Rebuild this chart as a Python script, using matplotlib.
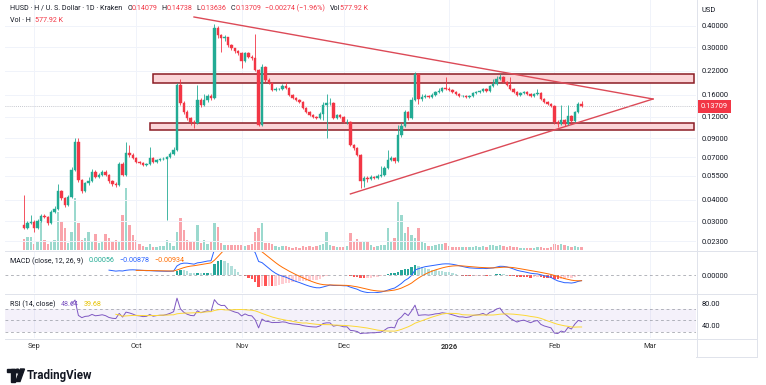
import numpy as np
import pandas as pd
import matplotlib
matplotlib.use("Agg")
import matplotlib.pyplot as plt
import matplotlib.dates as mdates
from matplotlib.lines import Line2D
from matplotlib.patches import Rectangle, Ellipse, Polygon
from matplotlib.transforms import blended_transform_factory

W, H = 766, 385

# ---- data (daily candles HUSD/USD, Kraken) ----
first_day = "2025-08-29"
first_open = 0.0286
closes = [
    .0275, .0293, .0297, .0275, .0301, .0322, .0318, .0293, .0340, .0353,
    .0448, .0408, .0372, .0414, .0592, .0857, .0518, .0448, .0498, .0511,
    .0576, .0539, .0554, .0576, .0554, .0511, .0492, .0485, .0640, .0554,
    .0741, .0721, .0693, .0658, .0649, .0632, .0640, .0693, .0658, .0675,
    .0684, .0684, .0703, .0731, .0771, .1821, .1435, .1274, .1177, .1116,
    .1101, .1493, .1397, .1493, .1574, .1533, .3870, .3528, .3390, .3436,
    .3091, .2970, .2855, .2780, .2501, .2780, .2637, .2602, .2220, .1073,
    .2310, .1945, .1870, .1704, .1727, .1727, .1797, .1750, .1595, .1533,
    .1493, .1454, .1343, .1274, .1224, .1192, .1177, .1241, .1397, .1435,
    .1435, .1177, .1224, .1192, .1116, .1116, .0823, .0791, .0721, .0511,
    .0532, .0525, .0539, .0532, .0546, .0554, .0607, .0675, .0693, .0666,
    .0940, .1059, .1274, .1177, .1493, .2106, .1513, .1553, .1574, .1553,
    .1595, .1660, .1682, .1750, .1727, .1704, .1660, .1616, .1574, .1574,
    .1553, .1574, .1638, .1660, .1682, .1727, .1682, .1797, .1845, .1971,
    .2024, .1894, .1821, .1727, .1660, .1595, .1638, .1660, .1616, .1574,
    .1616, .1638, .1513, .1454, .1416, .1379, .1116, .1087, .1146, .1087,
    .1208, .1131, .1274, .14079, .13709,
]
highs = [
    .0425, .0300, .0326, .0305, .0310, .0330, .0332, .0322, .0348, .0365,
    .0492, .0455, .0415, .0425, .0615, .0903, .0903, .0525, .0505, .0539,
    .0600, .0592, .0570, .0592, .0592, .0561, .0518, .0505, .0658, .0658,
    .0857, .0823, .0741, .0703, .0666, .0658, .0649, .0802, .0703, .0684,
    .0693, .0703, .0712, .0751, .0802, .1870, .1971, .1473, .1308, .1192,
    .1146, .1821, .1533, .1616, .1616, .1616, .4080, .3974, .3575, .3528,
    .3436, .3132, .2970, .2893, .2817, .2817, .2817, .2708, .3575, .2250,
    .2404, .2341, .1997, .1894, .1773, .1750, .1845, .1894, .1773, .1616,
    .1553, .1513, .1473, .1361, .1291, .1241, .1208, .1274, .1454, .1616,
    .1533, .1454, .1241, .1241, .1208, .1161, .1131, .0834, .0802, .0731,
    .0546, .0546, .0554, .0546, .0561, .0624, .0624, .0771, .0712, .0703,
    .1073, .1101, .1308, .1291, .1553, .2162, .2134, .1616, .1616, .1595,
    .1638, .1682, .1750, .1773, .2024, .1773, .1727, .1682, .1638, .1595,
    .1595, .1595, .1660, .1682, .1704, .1750, .1750, .1821, .1971, .2051,
    .2106, .2051, .1920, .2024, .1750, .1682, .1660, .1682, .1682, .1638,
    .1638, .1727, .1660, .1533, .1473, .1435, .1397, .1146, .1397, .1161,
    .1397, .1224, .1291, .1454, .14738,
]
lows = [
    .0270, .0270, .0288, .0262, .0272, .0298, .0312, .0285, .0290, .0335,
    .0350, .0400, .0362, .0368, .0410, .0585, .0505, .0436, .0442, .0485,
    .0505, .0532, .0532, .0546, .0546, .0498, .0479, .0472, .0479, .0546,
    .0546, .0703, .0684, .0649, .0640, .0624, .0624, .0632, .0649, .0649,
    .0666, .0675, .0305, .0693, .0721, .0761, .1397, .1241, .1146, .1073,
    .1031, .1087, .1361, .1379, .1454, .1493, .1513, .3390, .2817, .3258,
    .3010, .2893, .2780, .2708, .2280, .2468, .2602, .2534, .2191, .1059,
    .1059, .1894, .1845, .1682, .1682, .1704, .1704, .1727, .1574, .1513,
    .1473, .1435, .1326, .1257, .1208, .1177, .1161, .1161, .1146, .0903,
    .1397, .1161, .1161, .1177, .1101, .1087, .0813, .0771, .0712, .0466,
    .0472, .0505, .0518, .0525, .0525, .0539, .0546, .0599, .0666, .0649,
    .0658, .0915, .1045, .1146, .1161, .1473, .1416, .1473, .1533, .1533,
    .1533, .1574, .1638, .1660, .1704, .1682, .1638, .1595, .1553, .1553,
    .1533, .1533, .1553, .1616, .1638, .1660, .1660, .1660, .1773, .1821,
    .1945, .1870, .1797, .1704, .1638, .1574, .1574, .1616, .1595, .1553,
    .1553, .1595, .1493, .1435, .1397, .1361, .1087, .1045, .1073, .1059,
    .1073, .1101, .1116, .1257, .13636,
]
volumes_m = [
    2.2, 2.6, 2.6, 1.2, 1.6, 5.6, 2.0, 1.2, 1.6, 2.0,
    7.6, 5.6, 4.4, 1.4, 3.6, 10.4, 5.4, 2.0, 2.4, 3.6,
    1.6, 3.2, 1.4, 1.8, 3.2, 2.4, 1.6, 2.0, 1.6, 7.0,
    12.4, 5.0, 3.0, 2.0, 1.2, 0.8, 0.6, 1.2, 0.6, 0.6,
    0.8, 0.8, 2.0, 1.4, 0.8, 3.6, 6.4, 4.0, 2.0, 1.6,
    1.6, 5.0, 1.4, 2.0, 1.2, 1.6, 5.4, 4.6, 1.4, 1.0,
    1.0, 1.0, 1.0, 1.0, 1.0, 0.8, 1.0, 1.2, 3.6, 4.4,
    5.4, 1.4, 1.4, 1.2, 0.8, 0.6, 0.8, 0.8, 0.6, 0.4,
    0.6, 0.4, 0.8, 0.6, 0.8, 0.6, 0.8, 1.0, 1.2, 3.6,
    1.0, 0.8, 0.6, 0.6, 0.6, 0.8, 3.4, 1.6, 2.2, 1.6,
    1.6, 1.8, 1.0, 0.6, 0.8, 1.0, 1.0, 4.4, 1.6, 2.4,
    9.6, 7.0, 3.4, 4.6, 3.0, 2.4, 4.4, 1.6, 1.4, 0.8,
    0.8, 1.0, 1.2, 1.2, 1.4, 0.8, 0.6, 0.6, 0.6, 0.6,
    0.6, 0.6, 0.6, 0.8, 0.6, 0.8, 0.6, 1.0, 1.0, 0.8,
    1.0, 0.8, 0.6, 0.8, 0.6, 0.6, 0.4, 0.4, 0.4, 0.4,
    0.4, 0.6, 0.6, 0.4, 0.4, 0.6, 1.2, 1.0, 1.2, 1.0,
    0.8, 0.6, 0.8, 0.6, 0.578,
]

price_ticks = [0.4, 0.3, 0.22, 0.16, 0.12, 0.09, 0.07, 0.055, 0.04, 0.03, 0.023]
month_days = ["2025-09-01", "2025-10-01", "2025-11-01", "2025-12-01",
              "2026-01-01", "2026-02-01", "2026-03-01"]
month_labels = ["Sep", "Oct", "Nov", "Dec", "2026", "Feb", "Mar"]

# drawings: (start day, end day, low, high) / ((day, price), (day, price))
upper_zone = ("2025-10-06", "2026-03-14", 0.1870, 0.2106)
lower_zone = ("2025-10-05", "2026-03-14", 0.1004, 0.1101)
falling_line = (("2025-10-18", 0.4476), ("2026-03-02", 0.1513))
rising_line = (("2025-12-03", 0.0431), ("2026-03-02", 0.1513))

last_price = 0.13709

UP, DOWN = "#22ab94", "#f23645"
DARK = "#131722"
GRID = "#f0f3fa"
SEP = "#e0e3eb"
RED = "#f23645"
plt.rcParams["font.family"] = ["Roboto", "DejaVu Sans"]

PANE_L, PANE_R = 5, 696
SCALE_R = 757


def ema(values, n, alpha=None):
    v = np.asarray(values, float)
    out = np.full(len(v), np.nan)
    start = np.where(~np.isnan(v))[0][0]
    a = 2 / (n + 1) if alpha is None else alpha
    out[start + n - 1] = v[start:start + n].mean()
    for k in range(start + n, len(v)):
        out[k] = a * v[k] + (1 - a) * out[k - 1]
    return out


def rect(x0, y0, x1, y1):
    return [x0 / W, 1 - y1 / H, (x1 - x0) / W, (y1 - y0) / H]


def put_runs(fig, renderer, x, y, runs, size):
    for txt, col, gap in runs:
        t = fig.text(x / W, 1 - y / H, txt, color=col, fontsize=size,
                     ha="left", va="center")
        x += t.get_window_extent(renderer=renderer).width + gap


def d2n(day):
    return mdates.date2num(pd.Timestamp(day))


c = np.array(closes)
o = np.r_[first_open, c[:-1]]
o[-1] = 0.14079
hi = np.array(highs)
lo = np.array(lows)
vol = np.array(volumes_m)
x = mdates.date2num(pd.date_range(first_day, periods=len(c)))
colors = np.where(c >= o, UP, DOWN)

# indicators, computed the way the chart does
macd = ema(c, 12) - ema(c, 26)
signal = ema(macd, 9)
hist = macd - signal
delta = np.r_[np.nan, np.diff(c)]
gain = np.where(delta > 0, delta, 0.0)
loss = np.where(delta < 0, -delta, 0.0)
gain[0] = loss[0] = np.nan
rsi = 100 - 100 / (1 + ema(gain, 14, 1 / 14) / ema(loss, 14, 1 / 14))
rsi_ma = pd.Series(rsi).rolling(14).mean().to_numpy()

fig = plt.figure(figsize=(W / 100, H / 100), dpi=100)
x0 = x[0]
px_per_day = 3.4
xlim = (x0 - (24 - PANE_L) / px_per_day, x0 + (PANE_R - 24) / px_per_day)

ax_v = fig.add_axes(rect(PANE_L, 0, PANE_R, 250))
ax_p = fig.add_axes(rect(PANE_L, 0, PANE_R, 250), sharex=ax_v)
ax_m = fig.add_axes(rect(PANE_L, 251, PANE_R, 293), sharex=ax_v)
ax_r = fig.add_axes(rect(PANE_L, 294, PANE_R, 338), sharex=ax_v)
ax_p.patch.set_visible(False)

for ax in (ax_v, ax_p, ax_m, ax_r):
    for s in ax.spines.values():
        s.set_visible(False)
    ax.tick_params(length=0, labelsize=5.4, labelcolor=DARK)
    ax.set_xlim(*xlim)
    for m in month_days:
        ax.axvline(d2n(m), color=GRID, lw=0.7, zorder=0)

# volume
ax_v.bar(x, vol, width=0.7, color=colors, alpha=0.45, linewidth=0)
ax_v.set_ylim(0, 50)
ax_v.set_yticks([])
ax_v.tick_params(labelbottom=False)

# price
ax_p.set_yscale("log")
ax_p.set_ylim(0.02053, 0.5605)
ax_p.minorticks_off()
ax_p.yaxis.tick_right()
ax_p.set_yticks(price_ticks)
ax_p.set_yticklabels([f"{t:.5f}" for t in price_ticks])
ax_p.tick_params(axis="y", pad=4)
ax_p.tick_params(labelbottom=False)
for t in price_ticks:
    ax_p.axhline(t, color=GRID, lw=0.7, zorder=0)

for (d0, d1, p0, p1) in (upper_zone, lower_zone):
    ax_p.add_patch(Rectangle((d2n(d0), p0), d2n(d1) - d2n(d0), p1 - p0,
                             facecolor="#fbd5d8", edgecolor="#8c1c24",
                             lw=1.1, zorder=1))
for (a, b) in (falling_line, rising_line):
    ax_p.plot([d2n(a[0]), d2n(b[0])], [a[1], b[1]], color="#dc4a57",
              lw=1.0, zorder=2)

ax_p.vlines(x, lo, hi, colors=colors, lw=0.6, zorder=3)
ax_p.bar(x, np.abs(c - o), bottom=np.minimum(o, c), width=0.72,
         color=colors, edgecolor=colors, lw=0.3, zorder=4)

ax_p.axhline(last_price, color="#b2b5be", lw=0.6, ls=(0, (1, 1.5)), zorder=2)
bt = blended_transform_factory(ax_p.transAxes, ax_p.transData)
ax_p.text(1 + 5 / (PANE_R - PANE_L), last_price, f"{last_price:.5f}", transform=bt,
          ha="left", va="center", color="white", fontsize=5.4, clip_on=False,
          bbox=dict(boxstyle="square,pad=0.35", fc=RED, ec="none"), zorder=10)

# MACD
hcol = []
for k in range(len(hist)):
    prev = hist[k - 1] if k > 0 else np.nan
    rising = prev < hist[k]
    if hist[k] >= 0:
        hcol.append("#26a69a" if rising else "#b2dfdb")
    else:
        hcol.append("#ffcdd2" if rising else "#ff5252")
ax_m.bar(x, np.nan_to_num(hist), width=0.72, color=hcol, lw=0)
ax_m.plot(x, macd, color="#2962ff", lw=0.7)
ax_m.plot(x, signal, color="#ff6d00", lw=0.7)
ax_m.axhline(0, color="#9598a1", lw=0.5, ls=(0, (4, 4)))
ax_m.set_ylim(-0.030, 0.040)
ax_m.yaxis.tick_right()
ax_m.set_yticks([0])
ax_m.set_yticklabels(["0.00000"])
ax_m.tick_params(axis="y", pad=4)
ax_m.tick_params(labelbottom=False)

# RSI
ax_r.axhspan(30, 70, color="#7e57c2", alpha=0.08, lw=0)
for lvl in (70, 50, 30):
    ax_r.axhline(lvl, color="#9598a1", lw=0.5, ls=(0, (4, 4)))
ax_r.plot(x, rsi, color="#7e57c2", lw=0.7)
ax_r.plot(x, rsi_ma, color="#fdd835", lw=0.7)
ax_r.set_ylim(19.1, 95.7)
ax_r.yaxis.tick_right()
ax_r.set_yticks([80, 40])
ax_r.set_yticklabels(["80.00", "40.00"])
ax_r.tick_params(axis="y", pad=4)
ax_r.set_xticks([d2n(m) for m in month_days])
ax_r.set_xticklabels(month_labels)
ax_r.tick_params(axis="x", pad=3.5, labelsize=5.4, labelcolor="#333333")
ax_r.get_xticklabels()[4].set_fontweight("bold")

# pane separators and price-scale frame
for yy in (250.5, 293.5, 338.5):
    fig.add_artist(Line2D([PANE_L / W, SCALE_R / W], [1 - yy / H] * 2, color=SEP, lw=0.7))
for xx in (PANE_R + 0.5, SCALE_R):
    fig.add_artist(Line2D([xx / W] * 2, [1 - 357 / H, 1], color=SEP, lw=0.7))
fig.add_artist(Line2D([PANE_R / W, SCALE_R / W], [1 - 357 / H] * 2, color=SEP, lw=0.7))

renderer = fig.canvas.get_renderer()
put_runs(fig, renderer, 10, 8, [
    ("HUSD · H / U. S. Dollar · 1D · Kraken", DARK, 5),
    ("O", DARK, 0), ("0.14079", RED, 4), ("H", DARK, 0), ("0.14738", RED, 4),
    ("L", DARK, 0), ("0.13636", RED, 4), ("C", DARK, 0), ("0.13709", RED, 4),
    ("\u22120.00274 (\u22121.96%)", RED, 5), ("Vol", DARK, 0), ("577.92 K", RED, 0),
], 5.1)
put_runs(fig, renderer, 10, 20, [("Vol · H", DARK, 4), ("577.92 K", RED, 0)], 5.1)
put_runs(fig, renderer, 10, 261, [
    ("MACD (close, 12, 26, 9)", DARK, 5), ("0.00056", "#22ab94", 5),
    ("\u22120.00878", "#2962ff", 5), ("\u22120.00934", "#ff6d00", 0),
], 5.1)
put_runs(fig, renderer, 10, 304, [
    ("RSI (14, close)", DARK, 5), ("48.64", "#7e57c2", 5), ("39.68", "#e6c200", 0),
], 5.1)
fig.text((PANE_R + 6) / W, 1 - 10 / H, "USD", fontsize=5.4, color=DARK, va="center")

# TradingView mark
logo = [Rectangle((7 / W, 1 - 372.4 / H), 7.5 / W, 3.4 / H),
        Rectangle((11 / W, 1 - 381.5 / H), 3.5 / W, 12.5 / H),
        Ellipse((17.5 / W, 1 - 371 / H), 3.8 / W, 3.8 / H),
        Polygon([(20.5 / W, 1 - 369 / H), (24.5 / W, 1 - 369 / H),
                 (20 / W, 1 - 381.5 / H), (15.8 / W, 1 - 381.5 / H)])]
for patch in logo:
    patch.set_transform(fig.transFigure)
    patch.set_color(DARK)
    fig.add_artist(patch)
fig.text(27 / W, 1 - 375 / H, "TradingView", fontsize=8.3, fontweight="bold",
         color=DARK, va="center", ha="left")

fig.savefig("out.png", dpi=100)
